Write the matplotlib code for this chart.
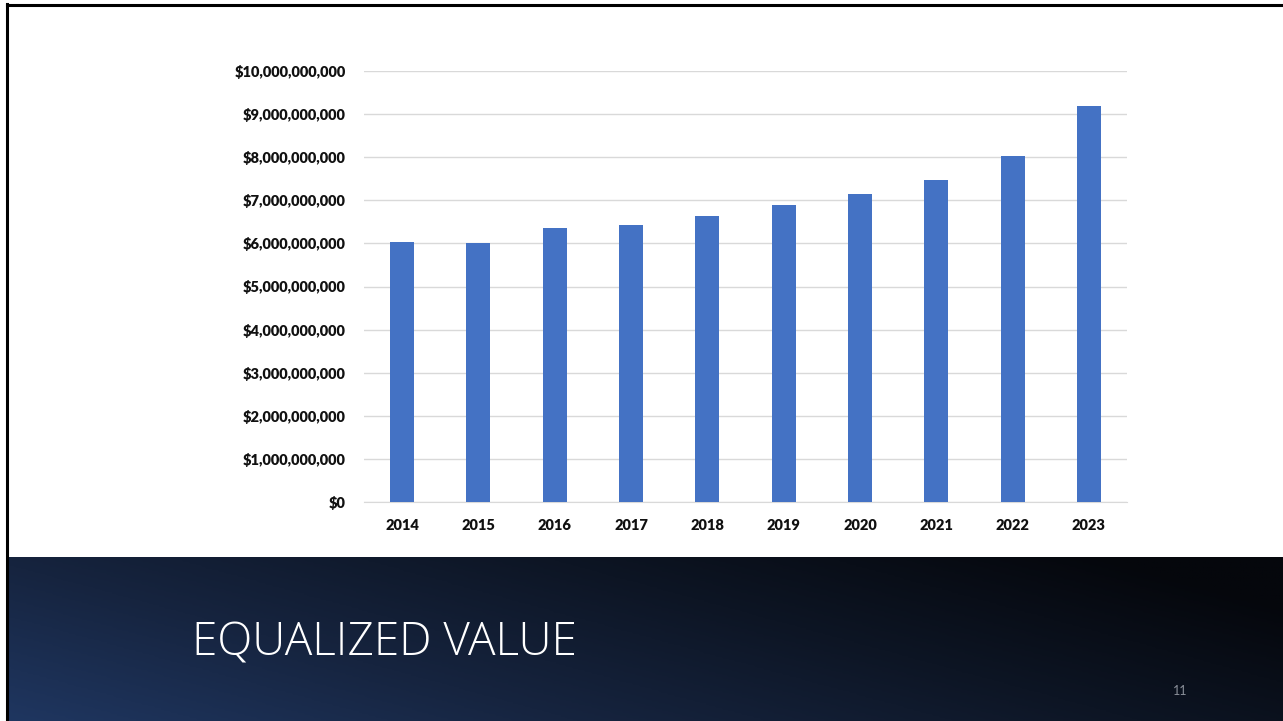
import numpy as np
import matplotlib.pyplot as plt
from matplotlib.ticker import FuncFormatter
from matplotlib.colors import LinearSegmentedColormap

years = ["2014", "2015", "2016", "2017", "2018", "2019", "2020", "2021", "2022", "2023"]
equalized_value = [6.03e9, 6.02e9, 6.36e9, 6.43e9, 6.63e9, 6.88e9, 7.15e9, 7.46e9, 8.02e9, 9.18e9]
title = "EQUALIZED VALUE"
page_number = "11"

plt.rcParams['font.family'] = ['Lato', 'DejaVu Sans']

fig = plt.figure(figsize=(12.83, 7.21), dpi=100)
fig.patch.set_facecolor('white')

# dark gradient band along the bottom of the slide
band = fig.add_axes([8 / 1283, 0, 1 - 8 / 1283, 164 / 721])
band.set_axis_off()
gx, gy = np.meshgrid(np.linspace(0, 1, 400), np.linspace(0, 1, 100))
grad = np.clip(0.75 * gx + 0.35 * gy, 0, 1)
cmap = LinearSegmentedColormap.from_list(
    "band", ["#1f3660", "#16243f", "#0d1524", "#05070c"])
band.imshow(grad, cmap=cmap, aspect='auto', origin='lower',
            extent=[0, 1, 0, 1])
band.set_xlim(0, 1)
band.set_ylim(0, 1)
band.text(184 / 1275, 0.47, title, color='white', fontsize=33,
          family=['Open Sans', 'DejaVu Sans'], fontweight='light',
          va='center', ha='left')
band.text(1172 / 1275, 0.18, page_number, color='#8a8f99', fontsize=9,
          va='center', ha='center')

# thin black frame on the top and left edges
fig.add_artist(plt.Line2D([6.5 / 1283, 6.5 / 1283], [0, 1 - 4 / 721],
                          color='black', lw=2.2))
fig.add_artist(plt.Line2D([6.5 / 1283, 1], [1 - 5 / 721, 1 - 5 / 721],
                          color='black', lw=2.2))

ax = fig.add_axes([364 / 1283, 219 / 721, 763 / 1283, 431 / 721])
x = np.arange(len(years))
ax.bar(x, equalized_value, width=0.315, color='#4472c4', zorder=3)
ax.set_xlim(-0.5, len(years) - 0.5)
ax.set_ylim(0, 10e9)
ax.set_yticks(np.arange(0, 10.5e9, 1e9))
ax.yaxis.set_major_formatter(FuncFormatter(lambda v, p: "${:,.0f}".format(v)))
ax.set_xticks(x)
ax.set_xticklabels(years)
ax.grid(axis='y', color='#d9d9d9', lw=1, zorder=0)
for s in ['top', 'right', 'left']:
    ax.spines[s].set_visible(False)
ax.spines['bottom'].set_color('#d9d9d9')
ax.tick_params(length=0, labelsize=10.5, colors='#111111', pad=12)
ax.tick_params(axis='y', pad=13)
for lbl in ax.get_xticklabels() + ax.get_yticklabels():
    lbl.set_fontweight('heavy')

fig.savefig("out.png", dpi=100)
